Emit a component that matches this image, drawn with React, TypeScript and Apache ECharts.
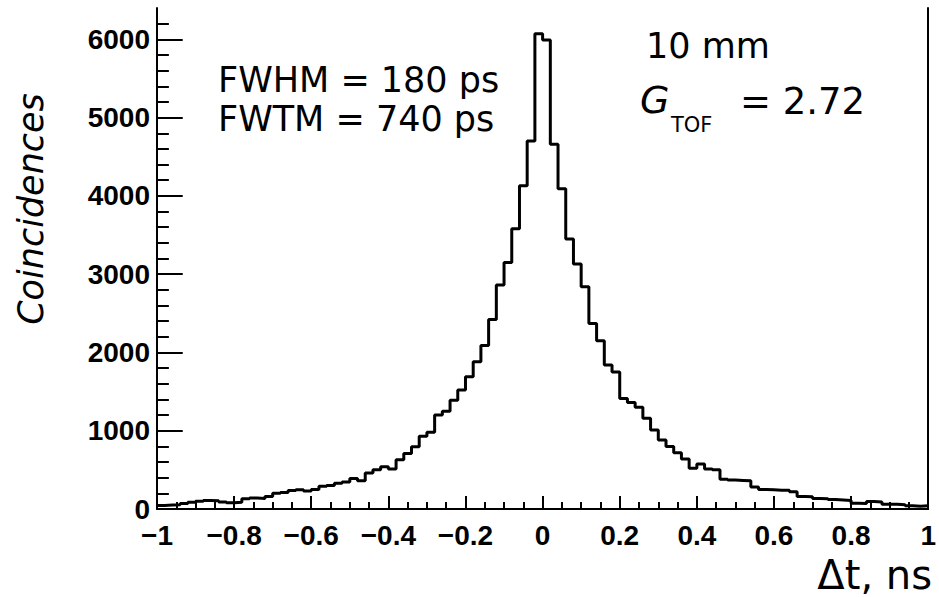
import React, { useEffect, useRef } from "react";
import * as echarts from "echarts";

// Histogram definition: 100 bins of 0.02 ns from -1 to 1 ns
const xMin = -1;
const xMax = 1;
const binWidth = 0.02;

// Counts for bins from -1.00 to -0.02 (left edges)
const countsNeg = [
  45, 50, 55, 70, 85, 100, 110, 105, 90, 80,
  85, 130, 140, 135, 160, 200, 210, 235, 245, 230,
  250, 290, 300, 330, 345, 390, 360, 460, 500, 540,
  510, 630, 710, 795, 930, 980, 1200, 1250, 1390, 1520,
  1690, 1880, 2090, 2420, 2860, 3150, 3580, 4130, 4700, 6070,
];

// Counts for bins from 0.00 to 0.98 (left edges)
const countsPos = [
  5990, 4660, 4090, 3450, 3130, 2840, 2370, 2150, 1840, 1750,
  1410, 1360, 1300, 1160, 1010, 880, 800, 720, 640, 520,
  575, 510, 500, 380, 370, 365, 360, 280, 250, 245,
  240, 240, 220, 160, 155, 135, 130, 120, 115, 110,
  75, 70, 95, 90, 60, 60, 55, 40, 35, 40,
];

const yMax = 6400;
const yMajorTicks = [0, 1000, 2000, 3000, 4000, 5000, 6000];
const yMinorStep = 200;
const xMajorStep = 0.2;
const xMinorStep = 0.05;
const yAxisTitle = "Coincidences";
const xAxisTitle = "Δt, ns";
const statsLines = ["FWHM = 180 ps", "FWTM = 740 ps"];
const thicknessLabel = "10 mm";
const gainSymbol = "G";
const gainSubscript = "TOF";
const gainValue = "= 2.72";

// layout of the plotting frame (pixels)
const GRID = { left: 157, right: 3, top: 8, bottom: 88 };
const W = 939;
const H = 597;

export default function App() {
  const ref = useRef<HTMLDivElement>(null);

  useEffect(() => {
    document.body.style.margin = "0";
    const el = ref.current;
    if (!el) return;
    const chart = echarts.init(el, undefined, { renderer: "svg" });

    const counts = [...countsNeg, ...countsPos];
    const stepData: number[][] = counts.map((c, i) => [
      Math.round((xMin + i * binWidth) * 1000) / 1000,
      c,
    ]);
    stepData.push([xMax, counts[counts.length - 1]]);

    // tick segments in data units (tick lengths converted from pixels)
    const plotW = W - GRID.left - GRID.right;
    const plotH = H - GRID.top - GRID.bottom;
    const xPerPx = (xMax - xMin) / plotW;
    const yPerPx = yMax / plotH;
    const tickSegs: any[] = [];
    const nX = Math.round((xMax - xMin) / xMinorStep);
    for (let i = 0; i <= nX; i++) {
      const v = Math.round((xMin + i * xMinorStep) * 100) / 100;
      const major = Math.abs(v / xMajorStep - Math.round(v / xMajorStep)) < 1e-6;
      const len = (major ? 13 : 7) * yPerPx;
      tickSegs.push({ coords: [[v, 0], [v, len]] });
    }
    for (let v = 0; v < yMax; v += yMinorStep) {
      const major = yMajorTicks.indexOf(v) >= 0;
      const len = (major ? 26 : 12) * xPerPx;
      tickSegs.push({ coords: [[xMin, v], [xMin + len, v]] });
    }

    const labelFont = {
      color: "#000",
      fontFamily: "Liberation Sans",
      fontWeight: "bold" as const,
      fontSize: 28,
    };
    const txtFont = '"DejaVu Sans", sans-serif';
    const ls = () => ({ color: "#000", width: 2 });

    const textEl = (
      text: string,
      x: number,
      y: number,
      font: string,
      align: string,
      rotation = 0
    ) => ({
      type: "text",
      x,
      y,
      rotation,
      z: 10,
      style: {
        text,
        font,
        fill: "#000",
        textAlign: align,
        textVerticalAlign: "middle",
      },
    });

    chart.setOption({
      animation: false,
      backgroundColor: "#fff",
      grid: { ...GRID, containLabel: false },
      xAxis: {
        type: "value",
        min: xMin,
        max: xMax,
        interval: xMajorStep,
        axisLine: { show: true, onZero: false, lineStyle: ls() },
        axisTick: { show: false },
        splitLine: { show: false },
        axisLabel: {
          ...labelFont,
          margin: 12,
          formatter: (v: number) => {
            const r = Math.round(v * 10) / 10;
            if (r === 0) return "0";
            return r < 0 ? "\u2212" + String(Math.abs(r)) : String(r);
          },
        },
      },
      yAxis: [
        {
          type: "value",
          min: 0,
          max: yMax,
          interval: 1000,
          position: "left",
          axisLine: { show: true, onZero: false, lineStyle: ls() },
          axisTick: { show: false },
          axisLabel: {
            ...labelFont,
            margin: 7,
            customValues: yMajorTicks,
            formatter: (v: number) => String(Math.round(v)),
          },
          splitLine: { show: false },
        },
        {
          type: "value",
          min: 0,
          max: yMax,
          position: "right",
          axisLine: { show: true, onZero: false, lineStyle: ls() },
          axisTick: { show: false },
          axisLabel: { show: false },
          splitLine: { show: false },
        },
      ],
      series: [
        {
          type: "line",
          xAxisIndex: 0,
          yAxisIndex: 0,
          data: stepData,
          step: "end",
          symbol: "none",
          lineStyle: { color: "#000", width: 3 },
          z: 5,
        },
        {
          type: "lines",
          coordinateSystem: "cartesian2d",
          xAxisIndex: 0,
          yAxisIndex: 0,
          polyline: false,
          silent: true,
          data: tickSegs,
          lineStyle: { color: "#000", width: 2, opacity: 1, curveness: 0 },
          effect: { show: false },
          z: 6,
        },
      ],
      graphic: [
        textEl(yAxisTitle, 31, 209, `italic 35px ${txtFont}`, "center", Math.PI / 2),
        textEl(xAxisTitle, 932, 575, `40px ${txtFont}`, "right"),
        textEl(statsLines[0], 218, 80, `35px ${txtFont}`, "left"),
        textEl(statsLines[1], 218, 119, `35px ${txtFont}`, "left"),
        textEl(thicknessLabel, 646, 46, `35px ${txtFont}`, "left"),
        textEl(gainSymbol, 640, 100, `italic 38px ${txtFont}`, "left"),
        textEl(gainSubscript, 671, 125, `21px ${txtFont}`, "left"),
        textEl(gainValue, 740, 101, `37px ${txtFont}`, "left"),
      ],
    });

    return () => chart.dispose();
  }, []);

  return <div ref={ref} style={{ width: W, height: H }} />;
}
